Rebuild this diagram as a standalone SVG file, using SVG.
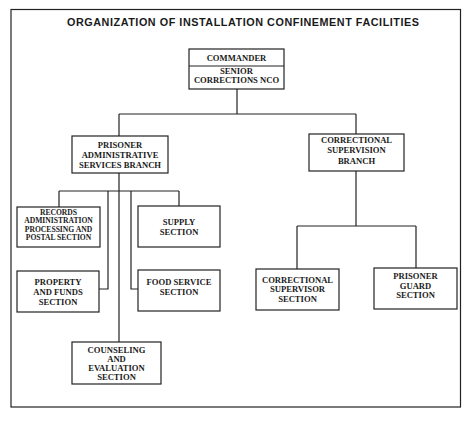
<svg xmlns="http://www.w3.org/2000/svg" width="474" height="422" viewBox="0 0 474 422">
<style>
.box{fill:#fff;stroke:#222;stroke-width:1.2}
.ln{fill:none;stroke:#222;stroke-width:1.2}
.t{font-family:"Liberation Serif",serif;font-weight:bold;font-size:8.6px;fill:#1a1a1a;text-anchor:middle}
.s{font-size:7.6px}
.title{font-family:"Liberation Sans",Arial,sans-serif;font-weight:bold;font-size:10.8px;fill:#1a1a1a}
</style>
<rect x="0" y="0" width="474" height="422" fill="#fff"/>
<rect x="11" y="9.5" width="449.5" height="397.5" class="ln"/>
<text class="title" x="67" y="26" textLength="352" lengthAdjust="spacing">ORGANIZATION OF INSTALLATION CONFINEMENT FACILITIES</text>
<g id="connectors">
<path class="ln" d="M237 89V114M119 114H356M119 114V136M356 114V134"/>
<path class="ln" d="M119 173V342M59 191H179M59 191V207M179 191V206M108 191V289H99M131 191V289H138"/>
<path class="ln" d="M356 171V226M297 226H416M297 226V269M416 226V268"/>
</g>
<g id="commander">
<rect class="box" x="189" y="49" width="95" height="40"/>
<line class="ln" x1="189" y1="66" x2="284" y2="66"/>
<text class="t" x="236.5" y="61">COMMANDER</text>
<text class="t" x="236.5" y="74">SENIOR</text>
<text class="t" x="236.5" y="82.5">CORRECTIONS NCO</text>
</g>
<g id="pasb">
<rect class="box" x="72" y="136" width="96" height="37"/>
<text class="t" x="120" y="148">PRISONER</text>
<text class="t" x="120" y="158">ADMINISTRATIVE</text>
<text class="t" x="120" y="167.5">SERVICES BRANCH</text>
</g>
<g id="records">
<rect class="box" x="17" y="207" width="83" height="40"/>
<text class="t s" x="58.5" y="214.5">RECORDS</text>
<text class="t s" x="58.5" y="223">ADMINISTRATION</text>
<text class="t s" x="58.5" y="231.5">PROCESSING AND</text>
<text class="t s" x="58.5" y="240">POSTAL SECTION</text>
</g>
<g id="supply">
<rect class="box" x="138" y="206" width="82" height="41"/>
<text class="t" x="179" y="225">SUPPLY</text>
<text class="t" x="179" y="234.5">SECTION</text>
</g>
<g id="property">
<rect class="box" x="17" y="271" width="82" height="41"/>
<text class="t" x="58" y="285">PROPERTY</text>
<text class="t" x="58" y="295">AND FUNDS</text>
<text class="t" x="58" y="305">SECTION</text>
</g>
<g id="food">
<rect class="box" x="138" y="270" width="82" height="41"/>
<text class="t" x="179" y="285">FOOD SERVICE</text>
<text class="t" x="179" y="295">SECTION</text>
</g>
<g id="counseling">
<rect class="box" x="72" y="342" width="89" height="42"/>
<text class="t" x="116.5" y="353">COUNSELING</text>
<text class="t" x="116.5" y="362">AND</text>
<text class="t" x="116.5" y="371">EVALUATION</text>
<text class="t" x="116.5" y="380">SECTION</text>
</g>
<g id="csb">
<rect class="box" x="309" y="134" width="95" height="37"/>
<text class="t" x="356.5" y="143">CORRECTIONAL</text>
<text class="t" x="356.5" y="153">SUPERVISION</text>
<text class="t" x="356.5" y="163.5">BRANCH</text>
</g>
<g id="css">
<rect class="box" x="256" y="269" width="83" height="41"/>
<text class="t" x="297.5" y="282.5">CORRECTIONAL</text>
<text class="t" x="297.5" y="292">SUPERVISOR</text>
<text class="t" x="297.5" y="302">SECTION</text>
</g>
<g id="pgs">
<rect class="box" x="374" y="268" width="83" height="41"/>
<text class="t" x="415.5" y="279">PRISONER</text>
<text class="t" x="415.5" y="288.5">GUARD</text>
<text class="t" x="415.5" y="298">SECTION</text>
</g>
</svg>
